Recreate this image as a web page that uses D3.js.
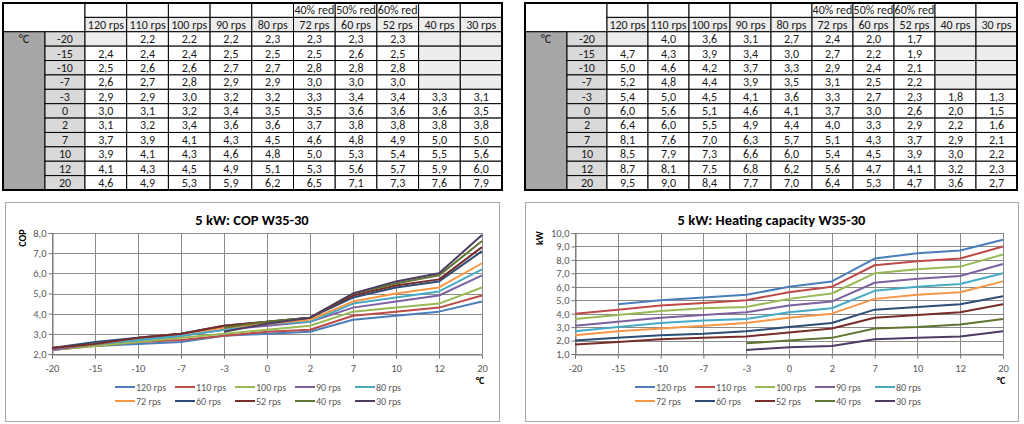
<!DOCTYPE html>
<html><head><meta charset="utf-8">
<script src="https://cdn.jsdelivr.net/npm/d3@7"></script>
<style>
html,body{margin:0;padding:0;background:#fff;}
svg{display:block;font-family:Carlito,Calibri,Lato,"Open Sans",sans-serif;}
</style></head>
<body>
<svg id="c" width="1024" height="424"></svg>
<script>
// ---- data ----
const temps = ["-20","-15","-10","-7","-3","0","2","7","10","12","20"];
const seriesNames = ["120 rps","110 rps","100 rps","90 rps","80 rps","72 rps","60 rps","52 rps","40 rps","30 rps"];
const reductions = ["","","","","","40% red","50% red","60% red","",""];
const colors = ["#4A7EBB","#BE4B48","#98B954","#7D60A0","#46AAC5","#F79646","#2C4D75","#772C2A","#5F7530","#4D3B62"];

const cop120 = [null,2.4,2.5,2.6,2.9,3.0,3.1,3.7,3.9,4.1,4.6];
const cop110 = [2.2,2.4,2.6,2.7,2.9,3.1,3.2,3.9,4.1,4.3,4.9];
const cop100 = [2.2,2.4,2.6,2.8,3.0,3.2,3.4,4.1,4.3,4.5,5.3];
const cop90  = [2.2,2.5,2.7,2.9,3.2,3.4,3.6,4.3,4.6,4.9,5.9];
const cop80  = [2.3,2.5,2.7,2.9,3.2,3.5,3.6,4.5,4.8,5.1,6.2];
const cop72  = [2.3,2.5,2.8,3.0,3.3,3.5,3.7,4.6,5.0,5.3,6.5];
const cop60  = [2.3,2.6,2.8,3.0,3.4,3.6,3.8,4.8,5.3,5.6,7.1];
const cop52  = [2.3,2.5,2.8,3.0,3.4,3.6,3.8,4.9,5.4,5.7,7.3];
const cop40  = [null,null,null,null,3.3,3.6,3.8,5.0,5.5,5.9,7.6];
const cop30  = [null,null,null,null,3.1,3.5,3.8,5.0,5.6,6.0,7.9];

const cap120 = [null,4.7,5.0,5.2,5.4,6.0,6.4,8.1,8.5,8.7,9.5];
const cap110 = [4.0,4.3,4.6,4.8,5.0,5.6,6.0,7.6,7.9,8.1,9.0];
const cap100 = [3.6,3.9,4.2,4.4,4.5,5.1,5.5,7.0,7.3,7.5,8.4];
const cap90  = [3.1,3.4,3.7,3.9,4.1,4.6,4.9,6.3,6.6,6.8,7.7];
const cap80  = [2.7,3.0,3.3,3.5,3.6,4.1,4.4,5.7,6.0,6.2,7.0];
const cap72  = [2.4,2.7,2.9,3.1,3.3,3.7,4.0,5.1,5.4,5.6,6.4];
const cap60  = [2.0,2.2,2.4,2.5,2.7,3.0,3.3,4.3,4.5,4.7,5.3];
const cap52  = [1.7,1.9,2.1,2.2,2.3,2.6,2.9,3.7,3.9,4.1,4.7];
const cap40  = [null,null,null,null,1.8,2.0,2.2,2.9,3.0,3.2,3.6];
const cap30  = [null,null,null,null,1.3,1.5,1.6,2.1,2.2,2.3,2.7];

const copTicks = [2,3,4,5,6,7,8];
const capTicks = [1,2,3,4,5,6,7,8,9,10];

const copSeries = [cop120,cop110,cop100,cop90,cop80,cop72,cop60,cop52,cop40,cop30];
const capSeries = [cap120,cap110,cap100,cap90,cap80,cap72,cap60,cap52,cap40,cap30];

const svg = d3.select("#c");
const fmt = v => v.toFixed(1).replace(".", ",");
const TF = 12;

// ---- tables ----
function drawTable(x0, x1, seriesData) {
  const y0 = 3, y1 = 190;
  const nRows = 13;
  const rh = (y1 - y0) / nRows;
  const c0w = 42, c1w = 40;
  const dataX = x0 + c0w + c1w;
  const cx = d3.scaleBand().domain(d3.range(10)).range([dataX, x1]);
  const ry = d3.scaleBand().domain(d3.range(nRows)).range([y0, y1]);
  const g = svg.append("g");
  const txt = (x, y, s) => g.append("text").attr("x", x).attr("y", y).attr("text-anchor", "middle")
    .attr("font-size", TF).attr("fill", "#1a1a1a").text(s);
  g.append("rect").attr("x", x0).attr("y", y0).attr("width", c0w + c1w).attr("height", rh * 2)
    .attr("fill", "#fff").attr("stroke", "#000").attr("stroke-width", 1);
  for (let i = 0; i < 10; i++) {
    g.append("rect").attr("x", cx(i)).attr("y", ry(0)).attr("width", cx.bandwidth()).attr("height", rh)
      .attr("fill", "#fff").attr("stroke", "#000").attr("stroke-width", 1);
    g.append("rect").attr("x", cx(i)).attr("y", ry(1)).attr("width", cx.bandwidth()).attr("height", rh)
      .attr("fill", "#ececec").attr("stroke", "#000").attr("stroke-width", 1);
    if (reductions[i]) txt(cx(i) + cx.bandwidth() / 2, ry(0) + rh / 2 + 4.2, reductions[i]);
    txt(cx(i) + cx.bandwidth() / 2, ry(1) + rh / 2 + 4.2, seriesNames[i]);
  }
  g.append("rect").attr("x", x0).attr("y", ry(2)).attr("width", c0w).attr("height", y1 - ry(2))
    .attr("fill", "#a6a6a6").attr("stroke", "#000").attr("stroke-width", 1);
  txt(x0 + c0w / 2, ry(2) + rh / 2 + 4.2, "°C");
  temps.forEach((t, r) => {
    const y = ry(r + 2);
    g.append("rect").attr("x", x0 + c0w).attr("y", y).attr("width", c1w).attr("height", rh)
      .attr("fill", "#d9d9d9").attr("stroke", "#000").attr("stroke-width", 1);
    txt(x0 + c0w + c1w / 2, y + rh / 2 + 4.2, t);
    seriesData.forEach((s, i) => {
      const v = s[r];
      g.append("rect").attr("x", cx(i)).attr("y", y).attr("width", cx.bandwidth()).attr("height", rh)
        .attr("fill", v == null ? "#ededed" : "#fff").attr("stroke", "#000").attr("stroke-width", 1);
      if (v != null) txt(cx(i) + cx.bandwidth() / 2, y + rh / 2 + 4.2, fmt(v));
    });
  });
  g.append("rect").attr("x", x0).attr("y", y0).attr("width", x1 - x0).attr("height", y1 - y0)
    .attr("fill", "none").attr("stroke", "#000").attr("stroke-width", 2);
}
drawTable(3, 502, copSeries);
drawTable(525, 1017, capSeries);

// ---- charts ----
function drawChart(box, plot, title, yTitle, yTitleX, yDomain, ticks, seriesData) {
  const g = svg.append("g");
  g.append("rect").attr("x", box.x0 + 0.5).attr("y", box.y0 + 0.5).attr("width", box.x1 - box.x0).attr("height", box.y1 - box.y0)
    .attr("fill", "#fff").attr("stroke", "#a6a6a6").attr("stroke-width", 1);
  const x = d3.scalePoint().domain(temps).range([plot.x0, plot.x1]);
  const y = d3.scaleLinear().domain(yDomain).range([plot.y1, plot.y0]);
  g.append("g").selectAll("line").data(ticks).join("line")
    .attr("x1", plot.x0).attr("x2", plot.x1).attr("y1", d => Math.round(y(d)) + 0.5).attr("y2", d => Math.round(y(d)) + 0.5)
    .attr("stroke", "#8a8a8a").attr("stroke-width", 1);
  g.append("g").selectAll("line").data(temps).join("line")
    .attr("x1", d => Math.round(x(d)) + 0.5).attr("x2", d => Math.round(x(d)) + 0.5).attr("y1", plot.y0).attr("y2", plot.y1)
    .attr("stroke", "#8a8a8a").attr("stroke-width", 1);
  const ya = g.append("g").attr("transform", `translate(${Math.round(plot.x0) + 0.5},0)`)
    .call(d3.axisLeft(y).tickValues(ticks).tickFormat(fmt).tickSize(4).tickPadding(2));
  const xa = g.append("g").attr("transform", `translate(0,${Math.round(plot.y1) + 0.5})`)
    .call(d3.axisBottom(x).tickSize(4).tickPadding(6));
  [ya, xa].forEach(a => {
    a.select(".domain").attr("stroke", "#777");
    a.selectAll(".tick line").attr("stroke", "#777");
    a.selectAll("text").attr("fill", "#595959").attr("font-size", 10.5).attr("font-family", "Carlito,Calibri,Lato,sans-serif");
  });
  const line = d3.line().defined(d => d.v != null).x(d => x(d.t)).y(d => y(d.v));
  seriesData.forEach((s, i) => {
    g.append("path").datum(temps.map((t, k) => ({t, v: s[k]})))
      .attr("d", line).attr("fill", "none").attr("stroke", colors[i]).attr("stroke-width", 2)
      .attr("stroke-linejoin", "round");
  });
  g.append("text").attr("x", (box.x0 + box.x1) / 2).attr("y", 225).attr("text-anchor", "middle")
    .attr("font-size", 14.5).attr("font-weight", "bold").attr("fill", "#000").text(title);
  g.append("text").attr("transform", `translate(${yTitleX},238) rotate(-90)`).attr("text-anchor", "middle")
    .attr("font-size", 10).attr("font-weight", "bold").attr("fill", "#000").text(yTitle);
  g.append("text").attr("x", plot.x1 - 2).attr("y", 384).attr("text-anchor", "middle")
    .attr("font-size", 10).attr("font-weight", "bold").attr("fill", "#000").text("°C");
  seriesNames.forEach((n, i) => {
    const lx = box.x0 + 110 + (i % 5) * 60;
    const ly = i < 5 ? 387 : 401;
    g.append("line").attr("x1", lx).attr("x2", lx + 20).attr("y1", ly).attr("y2", ly)
      .attr("stroke", colors[i]).attr("stroke-width", 2);
    g.append("text").attr("x", lx + 21).attr("y", ly + 3.5).attr("font-size", 10).attr("fill", "#595959").text(n);
  });
}
drawChart({x0: 5, x1: 499, y0: 202, y1: 421}, {x0: 52, x1: 482, y0: 233, y1: 354},
  "5 kW: COP W35-30", "COP", 26, [2, 8], copTicks, copSeries);
drawChart({x0: 525, x1: 1018, y0: 202, y1: 421}, {x0: 575, x1: 1003, y0: 233, y1: 354},
  "5 kW: Heating capacity W35-30", "kW", 543, [1, 10], capTicks, capSeries);
</script>
</body></html>
